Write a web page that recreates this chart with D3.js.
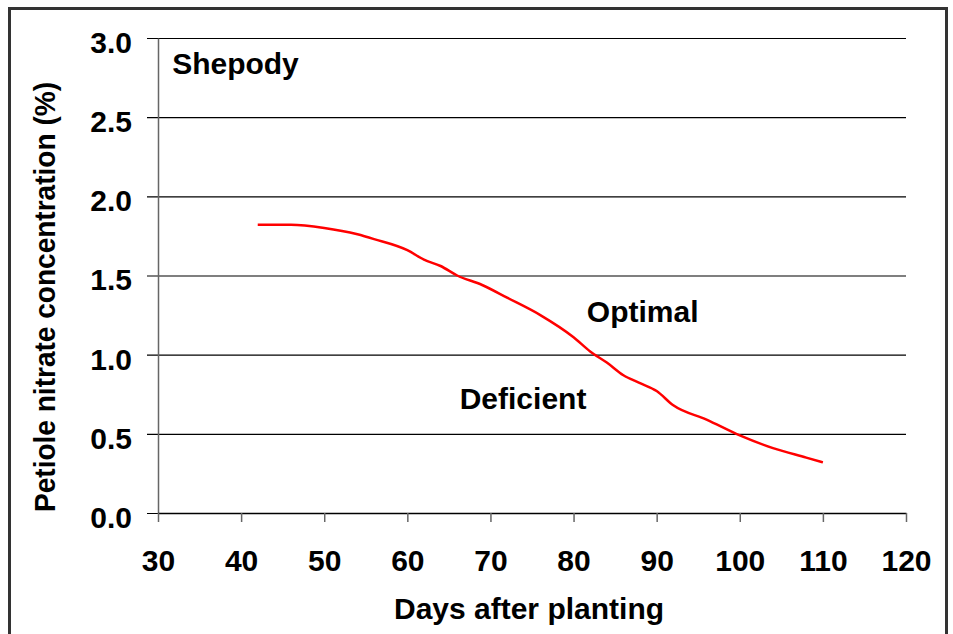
<!DOCTYPE html>
<html>
<head>
<meta charset="utf-8">
<script src="https://cdn.jsdelivr.net/npm/d3@7"></script>
<style>
  body { margin: 0; background: #fff; }
  text { font-family: "Liberation Sans", Arial, sans-serif; font-weight: bold; fill: #000; }
</style>
</head>
<body>
<svg id="chart" width="953" height="634"></svg>
<script>
// days after planting and petiole nitrate (%)
const days = [42, 46, 50, 54, 56, 60, 62, 64, 66, 69, 72, 76, 80, 82, 84, 86, 88, 90, 92, 96, 100, 104, 108, 110];
const nitrate = [1.82, 1.82, 1.80, 1.76, 1.73, 1.66, 1.60, 1.56, 1.50, 1.44, 1.36, 1.25, 1.11, 1.02, 0.95, 0.87, 0.82, 0.77, 0.68, 0.59, 0.49, 0.41, 0.35, 0.32];
const xTicks = [30, 40, 50, 60, 70, 80, 90, 100, 110, 120];
const yTicks = [0, 0.5, 1.0, 1.5, 2.0, 2.5, 3.0];
const labels = [
  {text: "Shepody", x: 31.7, y: 2.77},
  {text: "Optimal", x: 81.6, y: 1.205},
  {text: "Deficient", x: 66.3, y: 0.66}
];

const svg = d3.select("#chart");
const margin = {left: 158, right: 47, top: 38, bottom: 121};
const width = 953 - margin.left - margin.right;
const height = 634 - margin.top - margin.bottom;

//outer frame, runs off the bottom of the picture
svg.append("rect")
   .attr("x", 9.5).attr("y", 8.5)
   .attr("width", 937).attr("height", 660)
   .attr("fill", "none")
   .attr("stroke", "#333")
   .attr("stroke-width", 3);

const x = d3.scaleLinear().domain([30, 120]).range([0, width]);
const y = d3.scaleLinear().domain([0, 3]).range([height, 0]);

const g = svg.append("g").attr("transform", "translate(" + margin.left + "," + margin.top + ")");

//gridlines (with the left tick stubs)
g.append("g")
 .attr("class", "grid")
 .call(d3.axisLeft(y).tickValues(yTicks).tickSize(-width - 11).tickFormat(""))
 .attr("transform", "translate(-11,0)")
 .call(a => a.select(".domain").remove())
 .call(a => a.selectAll("line").attr("stroke", "#000").attr("stroke-width", 1.2));

//y axis
g.append("g")
 .call(d3.axisLeft(y).tickValues(yTicks).tickSize(0).tickPadding(26).tickFormat(d3.format(".1f")))
 .call(a => a.select(".domain").attr("stroke", "#666").attr("stroke-width", 1.5))
 .call(a => a.selectAll("text").attr("font-size", 30).attr("font-family", null).attr("dy", "0.48em"));

//x axis
g.append("g")
 .attr("transform", "translate(0," + height + ")")
 .call(d3.axisBottom(x).tickValues(xTicks).tickSize(9).tickPadding(28).tickSizeOuter(0))
 .call(a => a.select(".domain").attr("stroke", "#000").attr("stroke-width", 1.5))
 .call(a => a.selectAll(".tick line").attr("stroke", "#666").attr("stroke-width", 1.5))
 .call(a => a.selectAll("text").attr("font-size", 30).attr("font-family", null));

//curve
const line = d3.line()
  .x((d, i) => x(days[i]))
  .y(d => y(d))
  .curve(d3.curveMonotoneX);

g.append("path")
 .datum(nitrate)
 .attr("fill", "none")
 .attr("stroke", "#ff0000")
 .attr("stroke-width", 2.5)
 .attr("d", line);

//text inside the plot
g.selectAll("text.note")
 .data(labels)
 .enter()
 .append("text")
 .attr("class", "note")
 .attr("x", d => x(d.x))
 .attr("y", d => y(d.y))
 .attr("font-size", 30)
 .text(d => d.text);

//axis titles
svg.append("text")
   .attr("x", 529)
   .attr("y", 619)
   .attr("text-anchor", "middle")
   .attr("font-size", 30)
   .text("Days after planting");

svg.append("text")
   .attr("transform", "translate(55,297) rotate(-90)")
   .attr("text-anchor", "middle")
   .attr("font-size", 29)
   .attr("textLength", 430)
   .attr("lengthAdjust", "spacingAndGlyphs")
   .text("Petiole nitrate concentration (%)");
</script>
</body>
</html>
